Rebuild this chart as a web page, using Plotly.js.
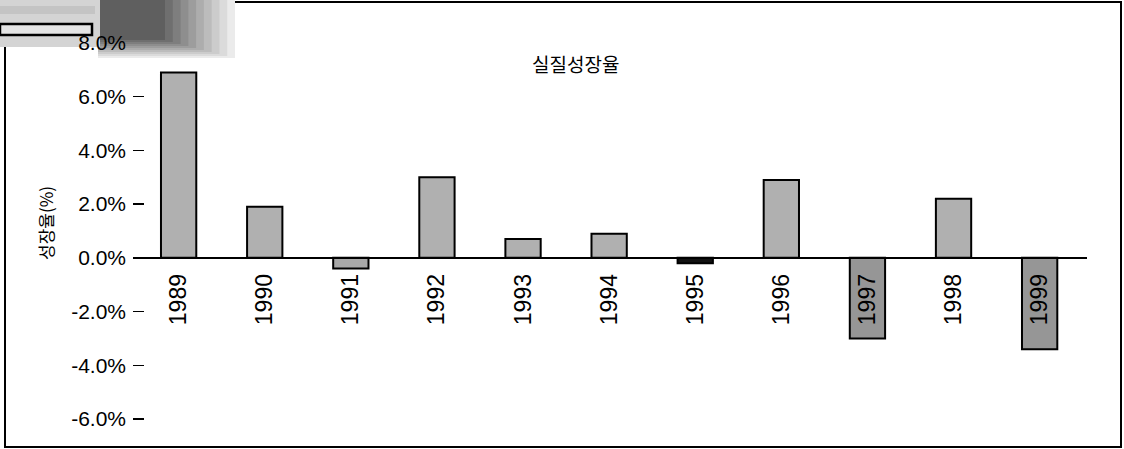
<!DOCTYPE html>
<html>
<head>
<meta charset="utf-8">
<script src="https://cdn.plot.ly/plotly-3.0.1.min.js"></script>
<style>html,body{margin:0;padding:0;background:#fff;}#chart{width:1124px;height:449px;}</style>
</head>
<body>
<div id="chart"></div>
<script>
// Data
var years = ['1989','1990','1991','1992','1993','1994','1995','1996','1997','1998','1999'];
var growth = [6.9, 1.9, -0.4, 3.0, 0.7, 0.9, -0.2, 2.9, -3.0, 2.2, -3.4];
var barColors = ['#b0b0b0','#b0b0b0','#a8a8a8','#b0b0b0','#b0b0b0','#b0b0b0','#111111','#b0b0b0','#969696','#b0b0b0','#969696'];
var yTickVals = [-6, -4, -2, 0, 2, 4, 6, 8];
var yTickText = ['-6.0%', '-4.0%', '-2.0%', '0.0%', '2.0%', '4.0%', '6.0%', '8.0%'];
var chartTitle = '실질성장율';
var yTitle = '성장율(%)';

var yMin = -6.15, yMax = 8;

// plot-area pixel frame (for placing decorations in paper coords)
var PL = 133, PR = 1087, PT = 43, PB = 423;
function px(x) { return (x - PL) / (PR - PL); }
function py(y) { return (PB - y) / (PB - PT); }
function rect(x0, y0, x1, y1, fill, line, lw) {
  return {type: 'rect', xref: 'paper', yref: 'paper', x0: px(x0), x1: px(x1), y0: py(y1), y1: py(y0),
          fillcolor: fill, line: {color: line || 'rgba(0,0,0,0)', width: lw || 0}, layer: 'below'};
}

var trace = {
  type: 'bar',
  x: years,
  y: growth,
  width: 0.41,
  marker: {color: barColors, line: {color: '#000', width: 2}},
  hoverinfo: 'x+y'
};

var shapes = [
  // outer frame
  {type: 'rect', xref: 'paper', yref: 'paper', x0: px(5), x1: px(1121), y0: py(447), y1: py(2),
   line: {color: '#000', width: 2}, fillcolor: 'rgba(0,0,0,0)', layer: 'below'}
];
// scanned page-corner shadow (top-left), a soft fade built from nested rects
var steps = 10;
for (var i = 0; i < steps; i++) {
  var t = i / (steps - 1);              // 0 outer -> 1 inner
  var g = Math.round(235 - t * 140);    // grey level
  shapes.push(rect(98, 0, 235 - t * 70, 58 - t * 18, 'rgb(' + g + ',' + g + ',' + g + ')'));
}
shapes.push(rect(0, 0, 100, 47, '#d4d4d4'));
shapes.push(rect(0, 6, 95, 14, '#c4c4c4'));
shapes.push(rect(0, 24, 92, 35, '#e4e4e4', '#000', 2.5));

var layout = {
  width: 1124, height: 449,
  margin: {l: PL, r: 1124 - PR, t: PT, b: 449 - PB, pad: 0},
  paper_bgcolor: '#fff', plot_bgcolor: 'rgba(0,0,0,0)',
  showlegend: false,
  font: {family: 'Liberation Sans, Arial, sans-serif', color: '#000'},
  xaxis: {
    type: 'category',
    range: [-0.53, 10.55],
    anchor: 'free',
    position: (0 - yMin) / (yMax - yMin),
    showline: true, linecolor: '#000', linewidth: 2,
    showgrid: false, zeroline: false,
    ticks: '', tickangle: -90,
    tickfont: {size: 23, family: 'Liberation Sans, Arial, sans-serif', color: '#000'},
    ticklabelstandoff: 6,
    fixedrange: true
  },
  yaxis: {
    range: [yMin, yMax],
    tickvals: yTickVals, ticktext: yTickText,
    showline: false, showgrid: false, zeroline: false,
    ticks: 'inside', ticklen: 11, tickwidth: 1.5, tickcolor: '#000',
    tickfont: {size: 21, family: 'Liberation Sans, Arial, sans-serif', color: '#000'},
    ticklabelstandoff: 6,
    fixedrange: true
  },
  annotations: [
    {text: chartTitle, xref: 'paper', yref: 'paper', x: px(575), y: py(63),
     xanchor: 'center', yanchor: 'middle', showarrow: false,
     font: {size: 19, family: 'Noto Sans CJK KR, sans-serif', color: '#000'}},
    {text: yTitle, xref: 'paper', yref: 'paper', x: px(45), y: py(223),
     xanchor: 'center', yanchor: 'middle', showarrow: false, textangle: -90,
     font: {size: 17, family: 'Noto Sans CJK KR, sans-serif', color: '#000'}}
  ],
  shapes: shapes
};

Plotly.newPlot('chart', [trace], layout, {staticPlot: true, displayModeBar: false});
</script>
</body>
</html>
